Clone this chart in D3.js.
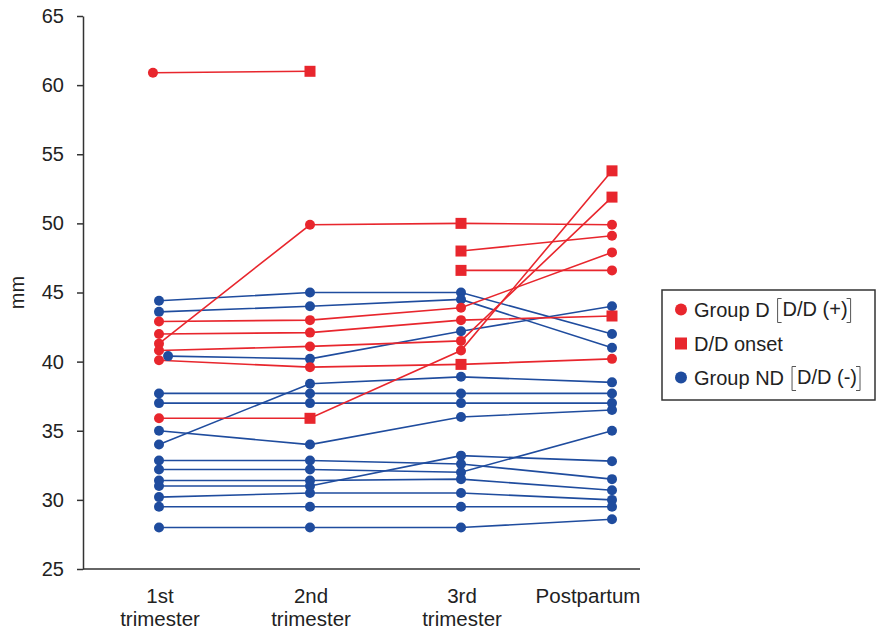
<!DOCTYPE html>
<html><head><meta charset="utf-8">
<script src="https://cdn.jsdelivr.net/npm/d3@7"></script>
<style>
body{margin:0;background:#fff}
svg{display:block}
text{font-family:"Liberation Sans",Arial,Helvetica,sans-serif;fill:#222}
</style>
</head><body><svg id="c" width="877" height="631"></svg>
<script>
// ---------- data ----------
const categories = ["1st trimester", "2nd trimester", "3rd trimester", "Postpartum"];
const categoryLines = [["1st", "trimester"], ["2nd", "trimester"], ["3rd", "trimester"], ["Postpartum"]];
const yTicks = [25, 30, 35, 40, 45, 50, 55, 60, 65];

// Group D [D/D (+)] : one row per subject, values per category (null = missing)
const groupD = [
  [60.9, 61.0, null, null],
  [41.3, 49.9, 50.0, 49.9],
  [42.9, 43.0, 43.9, 47.9],
  [42.0, 42.1, 43.0, 43.3],
  [40.8, 41.1, 41.5, 51.9],
  [40.1, 39.6, 39.8, 40.2],
  [35.9, 35.9, 40.8, 53.8],
  [null, null, 48.0, 49.1],
  [null, null, 46.6, 46.6]
];
// categories where the D/D onset marker (square) is shown, per row
const onsetIndex = [[1], [2], [], [3], [3], [2], [1, 3], [2], [2]];

// Group ND [D/D (-)]
const groupND = [
  [44.4, 45.0, 45.0, 42.0],
  [43.6, 44.0, 44.5, 41.0],
  [40.4, 40.2, 42.2, 44.0],
  [37.7, 37.7, 37.7, 37.7],
  [37.0, 37.0, 37.0, 37.0],
  [35.0, 34.0, 36.0, 36.5],
  [34.0, 38.4, 38.9, 38.5],
  [32.85, 32.85, 32.6, 31.5],
  [32.2, 32.2, 32.0, 35.0],
  [31.4, 31.4, 31.5, 30.7],
  [31.0, 31.0, 33.2, 32.8],
  [30.2, 30.5, 30.5, 30.0],
  [29.5, 29.5, 29.5, 29.5],
  [28.0, 28.0, 28.0, 28.6]
];
// small horizontal jitter of overlapping points: [row, category, fraction of step]
const jitterD = [[0, 0, -0.04]];
const jitterND = [[2, 0, 0.06]];

const legendItems = [
  {label: "Group D", bracket: "D/D (+)", shape: "circle", group: "D"},
  {label: "D/D onset", bracket: null, shape: "square", group: "D"},
  {label: "Group ND", bracket: "D/D (-)", shape: "circle", group: "ND"}
];

// ---------- styles ----------
const RED = "#e8262d", BLUE = "#1f4c9e", AXIS = "#333";
const svg = d3.select("#c");

const x = d3.scalePoint().domain(categories).range([159, 612]);
const y = d3.scaleLinear().domain([25, 65]).range([569, 16]);
const step = x.step();

function jit(list, r, c) {
  const j = list.find(a => a[0] === r && a[1] === c);
  return j ? j[2] * step : 0;
}

// ---------- axes ----------
const yAxis = d3.axisLeft(y).tickValues(yTicks).tickSize(6).tickSizeOuter(0).tickPadding(13);
const gy = svg.append("g").attr("transform", "translate(83,0)").call(yAxis);
gy.select(".domain").attr("stroke", AXIS).attr("stroke-width", 1.5);
gy.selectAll(".tick line").attr("stroke", AXIS).attr("stroke-width", 1.5);
gy.selectAll(".tick text").attr("font-size", 20).style("font-family", '"Liberation Sans",Arial,sans-serif').attr("fill", "#222");

svg.append("line").attr("x1", 83).attr("x2", 640).attr("y1", y(25)).attr("y2", y(25))
  .attr("stroke", AXIS).attr("stroke-width", 1.5);

svg.append("text").attr("transform", `translate(24,${(y(25) + y(65)) / 2}) rotate(-90)`)
  .attr("text-anchor", "middle").attr("font-size", 20).text("mm");

categories.forEach((c, i) => {
  const lines = categoryLines[i];
  const dx = lines.length === 1 ? -24 : 1;
  lines.forEach((t, k) => {
    svg.append("text").attr("x", x(c) + dx).attr("y", 603 + k * 23)
      .attr("text-anchor", "middle").attr("font-size", 20.5).text(t);
  });
});

// ---------- lines ----------
function rowPoints(row, r, jl) {
  return row.map((v, i) => ({v, i, x: x(categories[i]) + jit(jl, r, i)}));
}
const line = d3.line().defined(d => d.v != null).x(d => d.x).y(d => y(d.v));

const gND = svg.append("g");
groupND.forEach((row, r) => {
  gND.append("path").attr("d", line(rowPoints(row, r, jitterND)))
    .attr("fill", "none").attr("stroke", BLUE).attr("stroke-width", 1.6);
});
const gD = svg.append("g");
groupD.forEach((row, r) => {
  gD.append("path").attr("d", line(rowPoints(row, r, jitterD)))
    .attr("fill", "none").attr("stroke", RED).attr("stroke-width", 1.6);
});

// ---------- markers ----------
groupND.forEach((row, r) => {
  rowPoints(row, r, jitterND).filter(d => d.v != null).forEach(d => {
    svg.append("circle").attr("cx", d.x).attr("cy", y(d.v)).attr("r", 5).attr("fill", BLUE);
  });
});
groupD.forEach((row, r) => {
  rowPoints(row, r, jitterD).filter(d => d.v != null).forEach(d => {
    if (onsetIndex[r].includes(d.i)) {
      svg.append("rect").attr("x", d.x - 5.5).attr("y", y(d.v) - 5.5)
        .attr("width", 11).attr("height", 11).attr("fill", RED);
    } else {
      svg.append("circle").attr("cx", d.x).attr("cy", y(d.v)).attr("r", 5).attr("fill", RED);
    }
  });
});

// ---------- legend ----------
const lg = svg.append("g");
lg.append("rect").attr("x", 662).attr("y", 290).attr("width", 213).attr("height", 110)
  .attr("fill", "none").attr("stroke", AXIS).attr("stroke-width", 1.5);
legendItems.forEach((it, k) => {
  const cy = 309.5 + k * 34;
  const col = it.group === "D" ? RED : BLUE;
  if (it.shape === "circle") lg.append("circle").attr("cx", 681).attr("cy", cy).attr("r", 6).attr("fill", col);
  else lg.append("rect").attr("x", 675).attr("y", cy - 6).attr("width", 12).attr("height", 12).attr("fill", col);
  const t = lg.append("text").attr("x", 694).attr("y", cy + 7).attr("font-size", 20).text(it.label);
  if (it.bracket) {
    const w = t.node().getComputedTextLength();
    const bx = 694 + w + 8;
    const top = cy - 11, bot = cy + 13;
    lg.append("path").attr("d", `M${bx + 4},${top}H${bx}V${bot}H${bx + 4}`)
      .attr("fill", "none").attr("stroke", "#555").attr("stroke-width", 1);
    const t2 = lg.append("text").attr("x", bx + 5).attr("y", cy + 6).attr("font-size", 20).text(it.bracket);
    const w2 = t2.node().getComputedTextLength();
    const rx = bx + 5 + w2 + 3;
    lg.append("path").attr("d", `M${rx - 4},${top}H${rx}V${bot}H${rx - 4}`)
      .attr("fill", "none").attr("stroke", "#555").attr("stroke-width", 1);
  }
});
</script>
</body></html>
